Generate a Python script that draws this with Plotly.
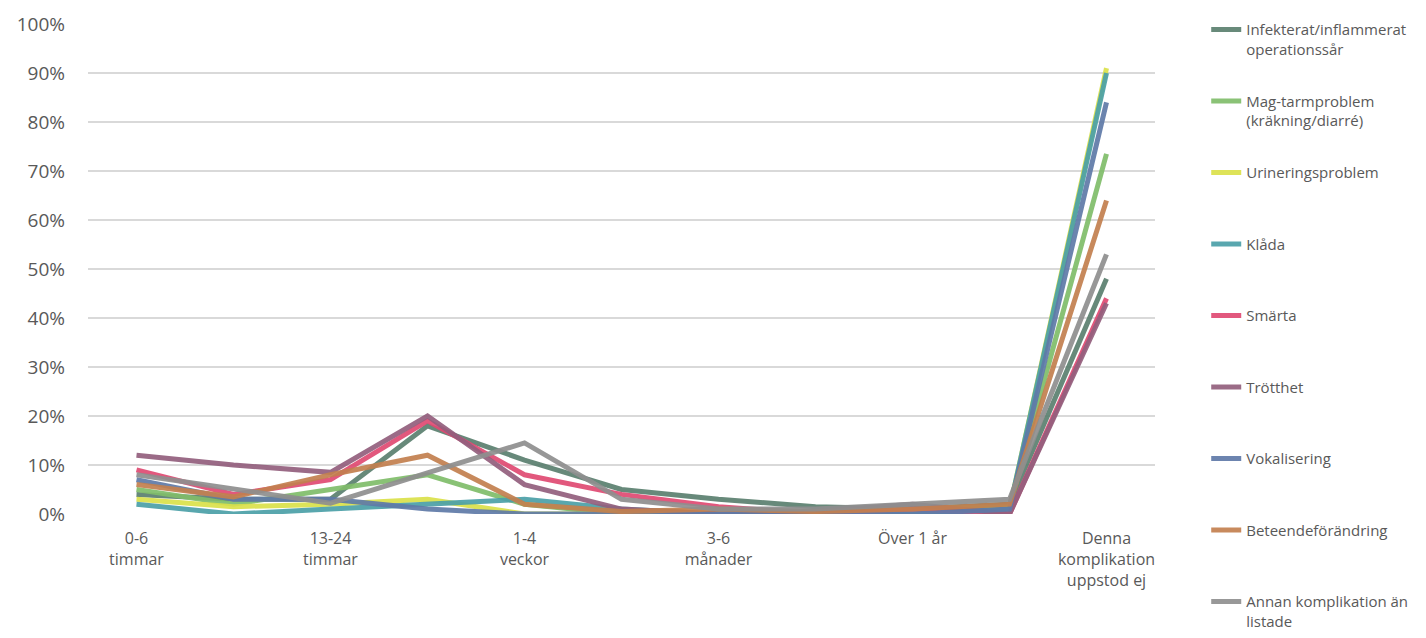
import plotly.graph_objects as go

categories = ["0-6 timmar", "7-12 timmar", "13-24 timmar", "1-7 dagar", "1-4 veckor",
              "1-3 månader", "3-6 månader", "6-12 månader", "Över 1 år", "Vet ej",
              "Denna komplikation uppstod ej"]
tick_categories = ["0-6 timmar", "13-24 timmar", "1-4 veckor", "3-6 månader", "Över 1 år",
                   "Denna komplikation uppstod ej"]
tick_labels = ["0-6<br>timmar", "13-24<br>timmar", "1-4<br>veckor", "3-6<br>månader",
               "Över 1 år", "Denna<br>komplikation<br>uppstod ej"]

series_names = ["Infekterat/inflammerat<br>operationssår",
                "Mag-tarmproblem<br>(kräkning/diarré)",
                "Urineringsproblem<br> ",
                "Klåda<br> ",
                "Smärta<br> ",
                "Trötthet<br> ",
                "Vokalisering<br> ",
                "Beteendeförändring<br> ",
                "Annan komplikation än<br>listade"]

infekterat = [4, 3, 3, 18, 11, 5, 3, 1.5, 1, 2, 48]
mag_tarm = [5, 2, 5, 8, 2, 0, 0, 0, 1, 1.5, 73.5]
urinering = [3, 1.5, 2, 3, 0, 0, 0, 0, 0, 1, 91]
klada = [2, 0, 1, 2, 3, 1, 0, 0, 0, 1, 90]
smarta = [9, 4, 7, 19, 8, 4, 1.5, 0, 1, 0, 44]
trotthet = [12, 10, 8.5, 20, 6, 1, 0, 0.5, 2, 0, 43]
vokalisering = [7, 3, 3, 1, 0, 0, 0, 0, 0, 1, 84]
beteende = [6, 3.5, 8, 12, 2, 0.5, 1, 0.5, 1, 2, 64]
annan = [8, 5, 2.2, 8.4, 14.5, 3, 1, 1, 2, 3, 53]

all_series = [infekterat, mag_tarm, urinering, klada, smarta, trotthet,
              vokalisering, beteende, annan]
colors = ["#5b806f", "#80bd6a", "#dbe14a", "#4ba0a8", "#e04a73",
          "#935f7d", "#5f7aa8", "#c3804f", "#8f8f8f"]

fig = go.Figure()
for i, (name, vals, col) in enumerate(zip(series_names, all_series, colors)):
    fig.add_trace(go.Scatter(
        x=categories, y=vals, name=name, mode="lines",
        line=dict(color=col, width=5),
        opacity=0.92,
        legendgroup=f"g{i}",
    ))

fig.update_layout(
    width=1426, height=638,
    margin=dict(l=88, r=271, t=24, b=124),
    paper_bgcolor="white", plot_bgcolor="white",
    font=dict(family="Open Sans", color="#595959"),
    showlegend=True,
    legend=dict(
        x=1.048, xanchor="left", y=1.022, yanchor="top",
        font=dict(size=15, color="#595959"),
        tracegroupgap=29.5, valign="top",
        bgcolor="rgba(0,0,0,0)",
        maxheight=640,
    ),
)
fig.update_xaxes(
    type="category", categoryorder="array", categoryarray=categories,
    range=[-0.5, len(categories) - 0.5],
    tickvals=tick_categories, ticktext=tick_labels,
    tickfont=dict(size=16, color="#595959"),
    showgrid=False, zeroline=False, showline=False, ticks="",
    ticklabelstandoff=13,
)
fig.update_yaxes(
    range=[0, 100], dtick=10, ticksuffix="%",
    tickfont=dict(size=19, color="#595959"),
    showgrid=True, gridcolor="#d9d9d9", gridwidth=1.5,
    zeroline=False, showline=False, ticks="",
    ticklabelstandoff=22,
)

fig.write_html("out.html")
